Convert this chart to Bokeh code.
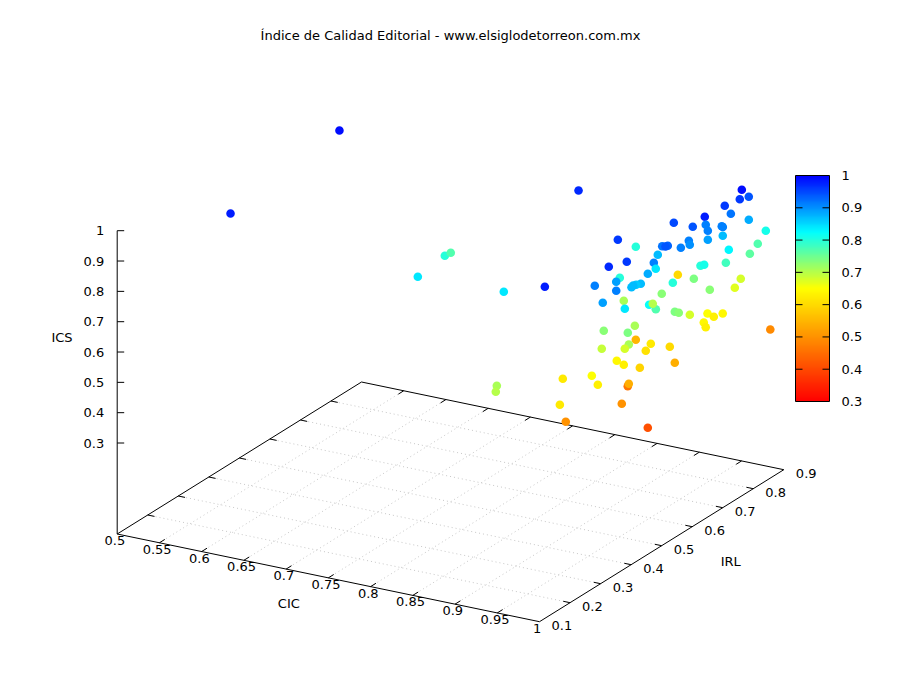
from bokeh.plotting import figure
from bokeh.embed import file_html
from bokeh.resources import INLINE
from bokeh.core.properties import value
from bokeh.models import ColumnDataSource, ColorBar, LinearColorMapper, FixedTicker

title_text = "Índice de Calidad Editorial - www.elsiglodetorreon.com.mx"

cic = [.5674,.5500,.7634,.7401,.7281,.8611,.9510,.8392,.9918,.9863,.9904,.9865,.9860,.9931,.9932,.9751,.9612,.9794,.9913,.9934,
       .9855,.9937,.9401,.9897,.9886,.8968,.9713,.9800,.9833,.9829,.9851,.9858,.9966,.9878,.9907,.9580,.9794,.9749,.9832,.9632,
       .9813,.9875,.9909,.8875,.9806,.9680,.9837,.9268,.9683,.9810,.9843,.9773,.9800,.9809,.9636,.9898,.9869,.9935,.9566,.9242,
       .9863,.9928,1.0,.9906,.9499,.9982,.9988,.9898,.9907,.9923,1.0,.9959,1.0,1.0,.9579,.9697,.9864,.9213,.9645,.9910,
       .9806,.9706,.9718,.9831,.9844,.9733,.9809,.9821,.9769,.9864,.9414,.9735,.9785,.9969,.9328,.9361,.9424,.9769,.9545]
irl = [.2847,.6895,.3559,.5088,.5614,.3672,.2530,.6726,.7852,.8232,.7824,.7440,.7653,.6603,.8042,.7133,.6471,.6589,.7209,.7186,
       .6913,.8585,.5222,.6797,.7317,.7008,.5812,.5754,.5588,.6363,.6333,.6021,.7293,.8485,.8145,.6035,.4428,.3963,.5208,.5825,
       .6789,.6739,.7354,.8641,.5084,.6939,.8042,.5654,.4389,.5891,.4751,.4794,.4622,.4541,.3817,.3795,.7758,.6756,.6204,.5856,
       .3451,.3993,.4590,.5069,.6095,.5481,.5594,.6204,.6759,.6920,.7000,.6493,.6444,.8558,.4269,.4960,.4267,.6330,.4021,.4173,
       .4329,.5458,.5260,.5734,.5862,.4269,.4288,.4780,.3352,.3286,.5511,.4657,.4289,.4632,.1461,.1336,.3356,.2305,.3119]
ics = [.98,.99,.84,.80,.77,.84,.98,.97,.99,.94,.96,.96,.92,.98,.88,.91,.95,.94,.91,.91,
       .91,.81,.96,.89,.87,.80,.92,.93,.94,.91,.90,.91,.83,.77,.76,.87,.96,.97,.91,.84,
       .80,.81,.78,.60,.88,.74,.68,.80,.89,.80,.87,.86,.87,.87,.91,.91,.67,.73,.73,.71,
       .89,.84,.82,.77,.70,.74,.73,.68,.65,.63,.64,.64,.63,.49,.73,.71,.74,.55,.69,.71,
       .68,.62,.61,.60,.54,.64,.63,.59,.65,.63,.46,.54,.50,.41,.71,.70,.62,.62,.50]

cic_ticks = [.5,.55,.6,.65,.7,.75,.8,.85,.9,.95,1]
cic_labels = ["0.5","0.55","0.6","0.65","0.7","0.75","0.8","0.85","0.9","0.95","1"]
irl_ticks = [.1,.2,.3,.4,.5,.6,.7,.8,.9]
irl_labels = ["0.1","0.2","0.3","0.4","0.5","0.6","0.7","0.8","0.9"]
ics_ticks = [.3,.4,.5,.6,.7,.8,.9,1]
ics_labels = ["0.3","0.4","0.5","0.6","0.7","0.8","0.9","1"]
cb_ticks = [.3,.4,.5,.6,.7,.8,.9,1]

FONT = value("DejaVu Sans")
FS = "13px"

def proj(c, i, z=0.0):
    # gnuplot-like view: projection of (CIC, IRL, ICS) on the drawing plane
    u = (c - .5) / .5
    v = (i - .1) / .8
    return (116.7 + 422.3 * u + 244.3 * v, 533.5 + 87.7 * u - 152.0 * v - 303.3 * z)

def lerp(a, b, t):
    return a + (b - a) * t

def make_palette(n=256):
    stops = [(0, (255, 0, 0)), (.5, (255, 255, 0)), (.75, (0, 255, 255)), (1, (0, 0, 255))]
    out = []
    for k in range(n):
        t = k / (n - 1)
        for (t0, c0), (t1, c1) in zip(stops, stops[1:]):
            if t <= t1:
                f = (t - t0) / (t1 - t0)
                out.append("#%02x%02x%02x" % tuple(round(lerp(a, b, f)) for a, b in zip(c0, c1)))
                break
    return out

p = figure(width=890, height=690, x_range=(0, 890), y_range=(690, 0),
           output_backend="svg", toolbar_location=None, min_border=0,
           outline_line_color=None)
p.axis.visible = False
p.grid.visible = False

def seg(pairs, **kw):
    xs, ys = [], []
    for a, b in pairs:
        xs.append([a[0], b[0]])
        ys.append([a[1], b[1]])
    return p.multi_line(xs, ys, **kw)

# grid
grid = [(proj(c, .1), proj(c, .9)) for c in cic_ticks[1:-1]] + [(proj(.5, i), proj(1, i)) for i in irl_ticks[1:-1]]
seg(grid, line_color="#c8c8c8", line_width=1, line_dash="1 3")

# base border + z axis
border = [(proj(.5, .1), proj(1, .1)), (proj(1, .1), proj(1, .9)), (proj(1, .9), proj(.5, .9)),
          (proj(.5, .9), proj(.5, .1)), (proj(.5, .1), proj(.5, .1, 1))]
seg(border, line_color="black", line_width=1)

# ticks
DV = .0176
DU = .008
ticks = []
for c in cic_ticks[1:-1]:
    ticks.append((proj(c, .1), proj(c, .1 + DV)))
    ticks.append((proj(c, .9), proj(c, .9 - DV)))
for i in irl_ticks[1:-1]:
    ticks.append((proj(1, i), proj(1 - DU, i)))
    ticks.append((proj(.5, i), proj(.5 + DU, i)))
for z in ics_ticks:
    a = proj(.5, .1, z)
    ticks.append((a, (a[0] + 7, a[1])))
seg(ticks, line_color="black", line_width=1)

# points
mapper = LinearColorMapper(palette=make_palette(), low=.3, high=1)
px, py = zip(*[proj(c, i, z) for c, i, z in zip(cic, irl, ics)])
src = ColumnDataSource(dict(x=list(px), y=list(py), ics=ics))
p.scatter("x", "y", source=src, size=8.6, marker="circle",
          fill_color={"field": "ics", "transform": mapper}, line_color=None)

# tick labels
def labels(xs, ys, txt, align="center"):
    p.text(xs, ys, text=txt, text_font=FONT, text_font_size=FS, text_color="black",
           text_align=align, text_baseline="middle")

cpos = [proj(c, .1) for c in cic_ticks]
labels([q[0] - 2.3 for q in cpos], [q[1] + 6.6 for q in cpos], cic_labels)
ipos = [proj(1, i) for i in irl_ticks]
labels([q[0] + 22.4 for q in ipos], [q[1] + 3.7 for q in ipos], irl_labels)
zpos = [proj(.5, .1, z) for z in ics_ticks]
labels([q[0] - 13 for q in zpos], [q[1] for q in zpos], ics_labels, "right")

# titles
labels([450], [35], [title_text])
labels([288.3], [603], ["CIC"])
labels([730.3], [560.7], ["IRL"])
labels([61.5], [337], ["ICS"])

cb = ColorBar(color_mapper=mapper, ticker=FixedTicker(ticks=cb_ticks), width=34, height=226,
              location=(795, 289), padding=0, margin=0, bar_line_color="black", bar_line_width=1,
              major_tick_line_color=None, major_tick_in=0, major_tick_out=0, minor_tick_line_color=None,
              label_standoff=12, major_label_text_font="DejaVu Sans", major_label_text_font_size=FS,
              major_label_text_color="black", background_fill_color=None, border_line_color=None,
              level="underlay",
              major_label_overrides={.3: "0.3", .4: "0.4", .5: "0.5", .6: "0.6", .7: "0.7", .8: "0.8", .9: "0.9", 1: "1"})
p.add_layout(cb, "center")

# colour-bar ticks on both sides of the bar
def cb_y(val):
    return 401 - (val - .3) / .7 * 226

cb_seg = []
for t in cb_ticks[1:-1]:
    cb_seg.append(((795, cb_y(t)), (802, cb_y(t))))
    cb_seg.append(((822, cb_y(t)), (829, cb_y(t))))
seg(cb_seg, line_color="black", line_width=1)

open("out.html", "w").write(file_html(p, INLINE))
